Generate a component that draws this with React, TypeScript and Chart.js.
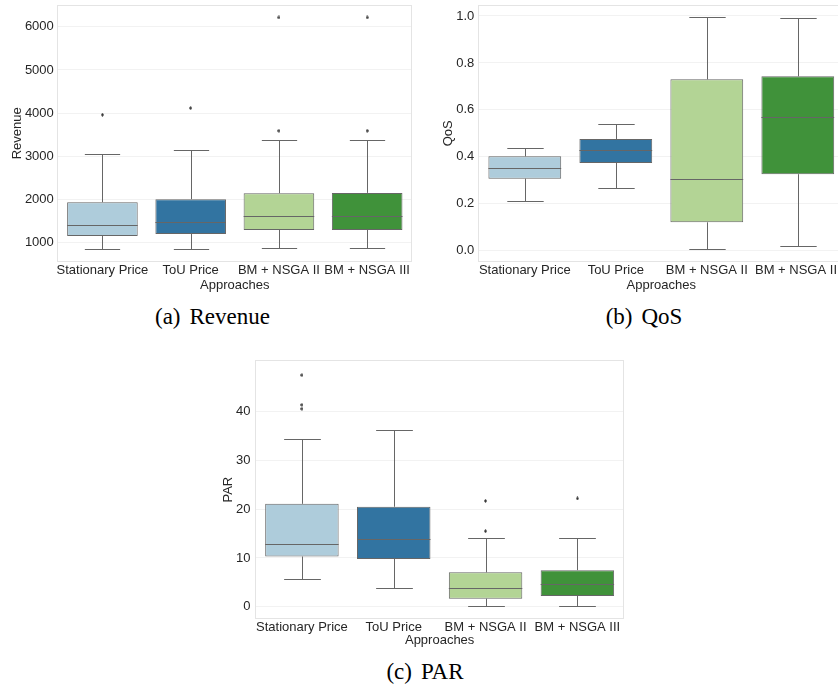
import React, { useEffect, useRef } from 'react';
import { Chart, registerables } from 'chart.js';
Chart.register(...registerables);

// ---------- data ----------
const categories = ['Stationary Price', 'ToU Price', 'BM + NSGA II', 'BM + NSGA III'];
const boxColors = ['#aeccdb', '#3274a1', '#b3d495', '#40923a'];

const revenueLow = [861, 868, 877, 877];
const revenueQ1 = [1162, 1208, 1301, 1301];
const revenueMed = [1410, 1479, 1617, 1617];
const revenueQ3 = [1942, 2011, 2150, 2157];
const revenueHigh = [3053, 3153, 3391, 3391];
const revenueOutliers = [[3963], [4118], [3593, 6215], [3593, 6215]];
const revenueTicks = [1000, 2000, 3000, 4000, 5000, 6000];

const qosLow = [0.212, 0.266, 0.006, 0.02];
const qosQ1 = [0.307, 0.374, 0.121, 0.326];
const qosMed = [0.351, 0.429, 0.307, 0.571];
const qosQ3 = [0.402, 0.476, 0.73, 0.743];
const qosHigh = [0.436, 0.541, 0.994, 0.99];
const qosOutliers: number[][] = [[], [], [], []];
const qosTicks = [0, 0.2, 0.4, 0.6, 0.8, 1.0];

const parLow = [5.6, 3.9, 0.08, 0.08];
const parQ1 = [10.3, 9.8, 1.65, 2.2];
const parMed = [12.9, 13.9, 3.8, 4.6];
const parQ3 = [21.1, 20.5, 7.05, 7.5];
const parHigh = [34.5, 36.2, 14.0, 14.15];
const parOutliers = [[47.5, 41.4, 40.6], [], [15.5, 21.7], [22.2]];
const parTicks = [0, 10, 20, 30, 40];

// ---------- styles ----------
const LINE = '#666666';
const FRAME = '#e4e4e4';
const GRID = '#f2f2f2';
const TEXT = '#262626';
const SANS = "'Liberation Sans', Arial, sans-serif";

type Spec = {
  low: number[]; q1: number[]; med: number[]; q3: number[]; high: number[]; outliers: number[][];
  ticks: number[]; fmt: (v: number) => string; yTitle: string; yMin: number; yMax: number;
  left: number; top: number; width: number; height: number;
  yAxisWidth: number; xAxisHeight: number; padTop: number; padRight: number;
  yTitlePad: number; yTickPad: number; xTickPad: number;
};

function BoxChart(p: Spec) {
  const ref = useRef<HTMLCanvasElement>(null);
  useEffect(() => {
    if (!ref.current) return;
    const marker = document.createElement('canvas');
    marker.width = 3; marker.height = 4;
    const mc = marker.getContext('2d')!;
    mc.fillStyle = '#333333';
    mc.beginPath(); mc.moveTo(1.5, 0); mc.lineTo(3, 2); mc.lineTo(1.5, 4); mc.lineTo(0, 2); mc.closePath(); mc.fill();

    const outlierPts = p.outliers.flatMap((arr, i) => arr.map((v) => ({ x: categories[i], y: v })));

    const boxParts = {
      id: 'boxParts',
      beforeDatasetsDraw(chart: any) {
        const { ctx, chartArea: a } = chart;
        const ys = chart.scales.y;
        const meta = chart.getDatasetMeta(0);
        ctx.save();
        ctx.strokeStyle = FRAME; ctx.lineWidth = 1;
        ctx.strokeRect(Math.round(a.left) - 0.5, Math.round(a.top) - 0.5, Math.round(a.right - a.left) + 1, Math.round(a.bottom - a.top) + 1);
        ctx.strokeStyle = LINE;
        meta.data.forEach((el: any, i: number) => {
          const x = Math.round(el.x) + 0.5;
          const w = el.width;
          const yl = Math.round(ys.getPixelForValue(p.low[i])) + 0.5;
          const y1 = ys.getPixelForValue(p.q1[i]);
          const y3 = ys.getPixelForValue(p.q3[i]);
          const yh = Math.round(ys.getPixelForValue(p.high[i])) + 0.5;
          ctx.beginPath();
          ctx.moveTo(x, y1); ctx.lineTo(x, yl);
          ctx.moveTo(x - w / 4, yl); ctx.lineTo(x + w / 4, yl);
          ctx.moveTo(x, y3); ctx.lineTo(x, yh);
          ctx.moveTo(x - w / 4, yh); ctx.lineTo(x + w / 4, yh);
          ctx.stroke();
        });
        ctx.restore();
      },
      afterDatasetsDraw(chart: any) {
        const { ctx } = chart;
        const ys = chart.scales.y;
        const meta = chart.getDatasetMeta(0);
        ctx.save();
        ctx.strokeStyle = LINE; ctx.lineWidth = 1;
        meta.data.forEach((el: any, i: number) => {
          const ym = Math.round(ys.getPixelForValue(p.med[i])) + 0.5;
          ctx.beginPath();
          ctx.moveTo(el.x - el.width / 2, ym); ctx.lineTo(el.x + el.width / 2, ym);
          ctx.stroke();
        });
        ctx.restore();
      },
    };

    const font = { family: SANS, size: 13 };
    const chart = new Chart(ref.current, {
      type: 'bar',
      data: {
        labels: categories,
        datasets: [
          {
            type: 'bar',
            data: p.q1.map((v, i) => [v, p.q3[i]]) as any,
            backgroundColor: boxColors,
            borderColor: LINE,
            borderWidth: 1,
            borderSkipped: false,
            barPercentage: 0.8,
            categoryPercentage: 1,
          } as any,
          {
            type: 'line',
            data: outlierPts as any,
            showLine: false,
            pointStyle: marker as any,
            pointRadius: 2,
            pointHoverRadius: 2,
          } as any,
        ],
      },
      options: {
        animation: false,
        responsive: false,
        devicePixelRatio: 1,
        events: [],
        layout: { padding: { top: p.padTop, right: p.padRight, left: 0, bottom: 0 } },
        plugins: { legend: { display: false }, tooltip: { enabled: false } },
        scales: {
          x: {
            type: 'category',
            offset: true,
            grid: { display: false, drawTicks: false },
            border: { display: false },
            ticks: { color: TEXT, font, padding: p.xTickPad, maxRotation: 0, autoSkip: false },
            title: { display: true, text: 'Approaches', color: TEXT, font, padding: { top: 0, bottom: 7 } },
            afterFit: (s: any) => { s.height = p.xAxisHeight; s.paddingLeft = 0; s.paddingRight = 0; },
          },
          y: {
            type: 'linear',
            min: p.yMin,
            max: p.yMax,
            grid: { color: GRID, drawTicks: false, lineWidth: 1 },
            border: { display: false },
            ticks: { color: TEXT, font, padding: p.yTickPad, callback: (v: any) => p.fmt(Number(v)) },
            afterBuildTicks: (s: any) => { s.ticks = p.ticks.map((v) => ({ value: v })); },
            title: { display: true, text: p.yTitle, color: TEXT, font, padding: { top: p.yTitlePad, bottom: 0 } },
            afterFit: (s: any) => { s.width = p.yAxisWidth; s.paddingTop = 0; s.paddingBottom = 0; },
          },
        },
      },
      plugins: [boxParts],
    });
    return () => chart.destroy();
  }, []);
  return (
    <canvas
      ref={ref}
      width={p.width}
      height={p.height}
      style={{ position: 'absolute', left: p.left, top: p.top, width: p.width, height: p.height }}
    />
  );
}

function Caption({ label, text, cx, baseline }: { label: string; text: string; cx: number; baseline: number }) {
  return (
    <div
      style={{
        position: 'absolute', left: cx - 150, width: 300, top: baseline - 19.3, height: 23,
        display: 'flex', justifyContent: 'center', alignItems: 'flex-start',
        fontFamily: "'Liberation Serif', 'Times New Roman', serif", fontSize: 23, lineHeight: '23px', color: '#000',
        whiteSpace: 'nowrap',
      }}
    >
      <span>{label}</span>
      <span style={{ marginLeft: 9 }}>{text}</span>
    </div>
  );
}

export default function App() {
  return (
    <div style={{ position: 'absolute', left: 0, top: 0, width: 838, height: 688, overflow: 'hidden', background: '#fff' }}>
      <BoxChart
        low={revenueLow} q1={revenueQ1} med={revenueMed} q3={revenueQ3} high={revenueHigh} outliers={revenueOutliers}
        ticks={revenueTicks} fmt={(v) => String(v)} yTitle="Revenue" yMin={588} yMax={6480}
        left={0} top={0} width={420} height={300}
        yAxisWidth={58.3} xAxisHeight={39.3} padTop={6} padRight={8.7}
        yTitlePad={9.2} yTickPad={4.5} xTickPad={1.5}
      />
      <BoxChart
        low={qosLow} q1={qosQ1} med={qosMed} q3={qosQ3} high={qosHigh} outliers={qosOutliers}
        ticks={qosTicks} fmt={(v) => v.toFixed(1)} yTitle="QoS" yMin={-0.0426} yMax={1.0426}
        left={420} top={0} width={430} height={300}
        yAxisWidth={59.3} xAxisHeight={39.3} padTop={6} padRight={6.7}
        yTitlePad={20.5} yTickPad={5} xTickPad={1.5}
      />
      <BoxChart
        low={parLow} q1={parQ1} med={parMed} q3={parQ3} high={parHigh} outliers={parOutliers}
        ticks={parTicks} fmt={(v) => String(v)} yTitle="PAR" yMin={-2.38} yMax={50.4}
        left={210} top={355} width={420} height={300}
        yAxisWidth={46} xAxisHeight={36.7} padTop={6} padRight={6.7}
        yTitlePad={10.7} yTickPad={5.5} xTickPad={1.6}
      />
      <Caption label="(a)" text="Revenue" cx={212.5} baseline={324} />
      <Caption label="(b)" text="QoS" cx={644} baseline={324} />
      <Caption label="(c)" text="PAR" cx={425} baseline={679} />
    </div>
  );
}
